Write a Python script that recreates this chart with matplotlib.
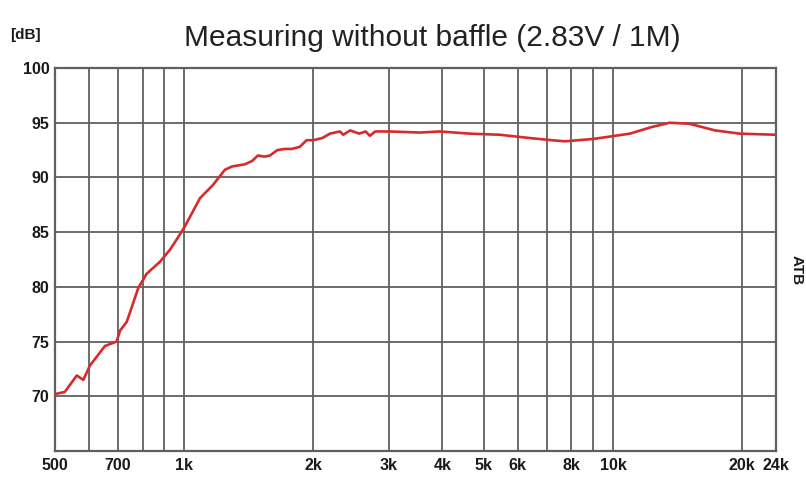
import matplotlib
matplotlib.use("Agg")
import matplotlib.pyplot as plt
from matplotlib.ticker import FixedLocator, NullLocator

freq = [500, 527, 562, 582, 603, 654, 696, 709, 735, 782, 818, 879, 927, 960,
        1000, 1089, 1167, 1245, 1293, 1386, 1440, 1486, 1540, 1585, 1650, 1718,
        1780, 1862, 1930, 2000, 2100, 2188, 2308, 2350, 2440, 2560, 2650, 2712,
        2790, 2850, 3019, 3546, 3949, 4638, 5448, 6400, 7200, 7726, 8900, 9318,
        10947, 12300, 13568, 15108, 17278, 19758, 24000]
spl = [70.2, 70.4, 71.9, 71.5, 72.8, 74.6, 75.0, 76.0, 76.8, 79.9, 81.2, 82.3,
       83.4, 84.3, 85.4, 88.1, 89.3, 90.7, 91.0, 91.2, 91.5, 92.0, 91.9, 92.0,
       92.5, 92.6, 92.6, 92.8, 93.4, 93.4, 93.6, 94.0, 94.2, 93.9, 94.3, 94.0,
       94.2, 93.8, 94.2, 94.2, 94.2, 94.1, 94.2, 94.0, 93.9, 93.6, 93.4, 93.3,
       93.5, 93.6, 94.0, 94.6, 95.0, 94.9, 94.3, 94.0, 93.9]

x_grid = [600, 700, 800, 900, 1000, 2000, 3000, 4000, 5000, 6000, 7000, 8000,
          9000, 10000, 20000]
x_tick_pos = [500, 700, 1000, 2000, 3000, 4000, 5000, 6000, 8000, 10000, 20000, 24000]
x_tick_lab = ["500", "700", "1k", "2k", "3k", "4k", "5k", "6k", "8k", "10k", "20k", "24k"]
y_ticks = [70, 75, 80, 85, 90, 95, 100]

plt.rcParams['font.family'] = ['Liberation Sans', 'DejaVu Sans']

fig = plt.figure(figsize=(8.06, 4.78), dpi=100)
ax = fig.add_axes([55/806, 27/478, 721/806, 383/478])
ax.set_xscale('log')
ax.set_xlim(500, 24000)
ax.set_ylim(65, 100)

gc = '#606060'
for xv in x_grid:
    ax.axvline(xv, color=gc, lw=1.3, zorder=1)
for yv in [70, 75, 80, 85, 90, 95]:
    ax.axhline(yv, color=gc, lw=1.3, zorder=1)

ax.plot(freq, spl, color='#d82a2a', lw=1.9, zorder=3)

ax.xaxis.set_major_locator(FixedLocator(x_tick_pos))
ax.xaxis.set_minor_locator(NullLocator())
ax.set_xticklabels(x_tick_lab)
ax.set_yticks(y_ticks)
ax.set_yticklabels([str(v) for v in y_ticks])
ax.tick_params(axis='both', length=0, labelsize=11.5, colors='#1a1a1a')
ax.tick_params(axis='x', pad=5)
ax.tick_params(axis='y', pad=4)
for lab in ax.get_xticklabels() + ax.get_yticklabels():
    lab.set_fontweight('bold')

for s in ax.spines.values():
    s.set_color(gc)
    s.set_linewidth(1.6)

fig.text(432/806, 1 - 38/478, "Measuring without baffle (2.83V / 1M)",
         ha='center', va='center', fontsize=21.5, color='#222222')
fig.text(10/806, 1 - 35/478, "[dB]", ha='left', va='center', fontsize=11,
         fontweight='bold', color='#1a1a1a')
fig.text(797/806, 1 - 270/478, "ATB", ha='center', va='center', fontsize=11,
         fontweight='bold', rotation=-90, color='#1a1a1a')

fig.savefig('out.png', dpi=100)
